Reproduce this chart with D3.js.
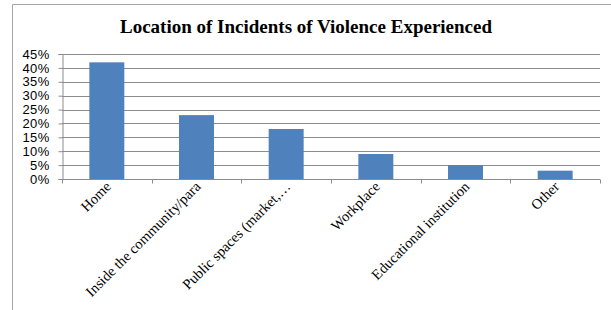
<!DOCTYPE html>
<html>
<head>
<meta charset="utf-8">
<script src="https://cdn.jsdelivr.net/npm/d3@7"></script>
<style>
  body { margin: 0; background: #fff; }
</style>
</head>
<body>
<div id="chart"></div>
<script>
// chart data
const categories = ['Home', 'Inside the community/para', 'Public spaces (market,…',
                    'Workplace', 'Educational institution', 'Other'];
const values = [0.42, 0.23, 0.18, 0.09, 0.05, 0.03];
const yTicks = [0, 0.05, 0.10, 0.15, 0.20, 0.25, 0.30, 0.35, 0.40, 0.45];

const width = 611, height = 310;
const margin = { top: 54, right: 11, bottom: 131, left: 62 };

const svg = d3.select('#chart').append('svg')
  .attr('width', width)
  .attr('height', height);

// outer frame (top + left edges visible)
svg.append('path')
  .attr('d', 'M12.5,310 L12.5,4.5 L611,4.5')
  .attr('fill', 'none')
  .attr('stroke', '#a6a6a6')
  .attr('stroke-width', 1);

svg.append('text')
  .attr('x', 306)
  .attr('y', 33)
  .attr('text-anchor', 'middle')
  .attr('font-family', '"Liberation Serif", "Times New Roman", serif')
  .attr('font-weight', 'bold')
  .attr('font-size', 19)
  .text('Location of Incidents of Violence Experienced');

const x = d3.scaleBand()
  .domain(categories)
  .range([margin.left, width - margin.right])
  .paddingInner(0.61)
  .paddingOuter(0.305);

const y = d3.scaleLinear()
  .domain([0, 0.45])
  .range([height - margin.bottom, margin.top]);

// gridlines
svg.append('g')
  .selectAll('line')
  .data(yTicks.slice(1))
  .join('line')
  .attr('x1', margin.left)
  .attr('x2', width - margin.right)
  .attr('y1', d => Math.round(y(d)) + 0.5)
  .attr('y2', d => Math.round(y(d)) + 0.5)
  .attr('stroke', '#8c8c8c')
  .attr('stroke-width', 1);

// bars
svg.append('g')
  .selectAll('rect')
  .data(values)
  .join('rect')
  .attr('x', (d, i) => x(categories[i]))
  .attr('y', d => y(d))
  .attr('width', x.bandwidth())
  .attr('height', d => y(0) - y(d))
  .attr('fill', '#4f81bd');

// y axis
const yAxis = svg.append('g')
  .attr('transform', `translate(${margin.left + 0.5},0)`)
  .call(d3.axisLeft(y).tickValues(yTicks).tickFormat(d3.format('.0%')).tickSizeOuter(0).tickSize(4).tickPadding(9));
yAxis.select('.domain').attr('stroke', '#8c8c8c');
yAxis.selectAll('.tick line').attr('stroke', '#8c8c8c');
yAxis.selectAll('.tick text')
  .attr('font-family', '"Liberation Sans", Arial, sans-serif')
  .attr('font-size', 13)
  .attr('letter-spacing', 0.3)
  .attr('fill', '#000');

// x axis with ticks at band boundaries
const xAxisG = svg.append('g')
  .attr('transform', `translate(0,${y(0) + 0.5})`);
xAxisG.append('line')
  .attr('x1', margin.left)
  .attr('x2', width - margin.right)
  .attr('stroke', '#8c8c8c');
const step = x.step();
const bounds = categories.map((c, i) => margin.left + i * step).concat([width - margin.right]);
xAxisG.selectAll('line.tk')
  .data(bounds)
  .join('line')
  .attr('class', 'tk')
  .attr('x1', d => Math.round(d) + 0.5)
  .attr('x2', d => Math.round(d) + 0.5)
  .attr('y1', 0)
  .attr('y2', 4)
  .attr('stroke', '#8c8c8c');

xAxisG.selectAll('text')
  .data(categories)
  .join('text')
  .attr('transform', d => `translate(${x(d) + x.bandwidth() / 2 + 5},${8}) rotate(-45)`)
  .attr('text-anchor', 'end')
  .attr('font-family', '"Liberation Serif", "Times New Roman", serif')
  .attr('font-size', 14.5)
  .attr('fill', '#000')
  .text(d => d);
</script>
</body>
</html>
